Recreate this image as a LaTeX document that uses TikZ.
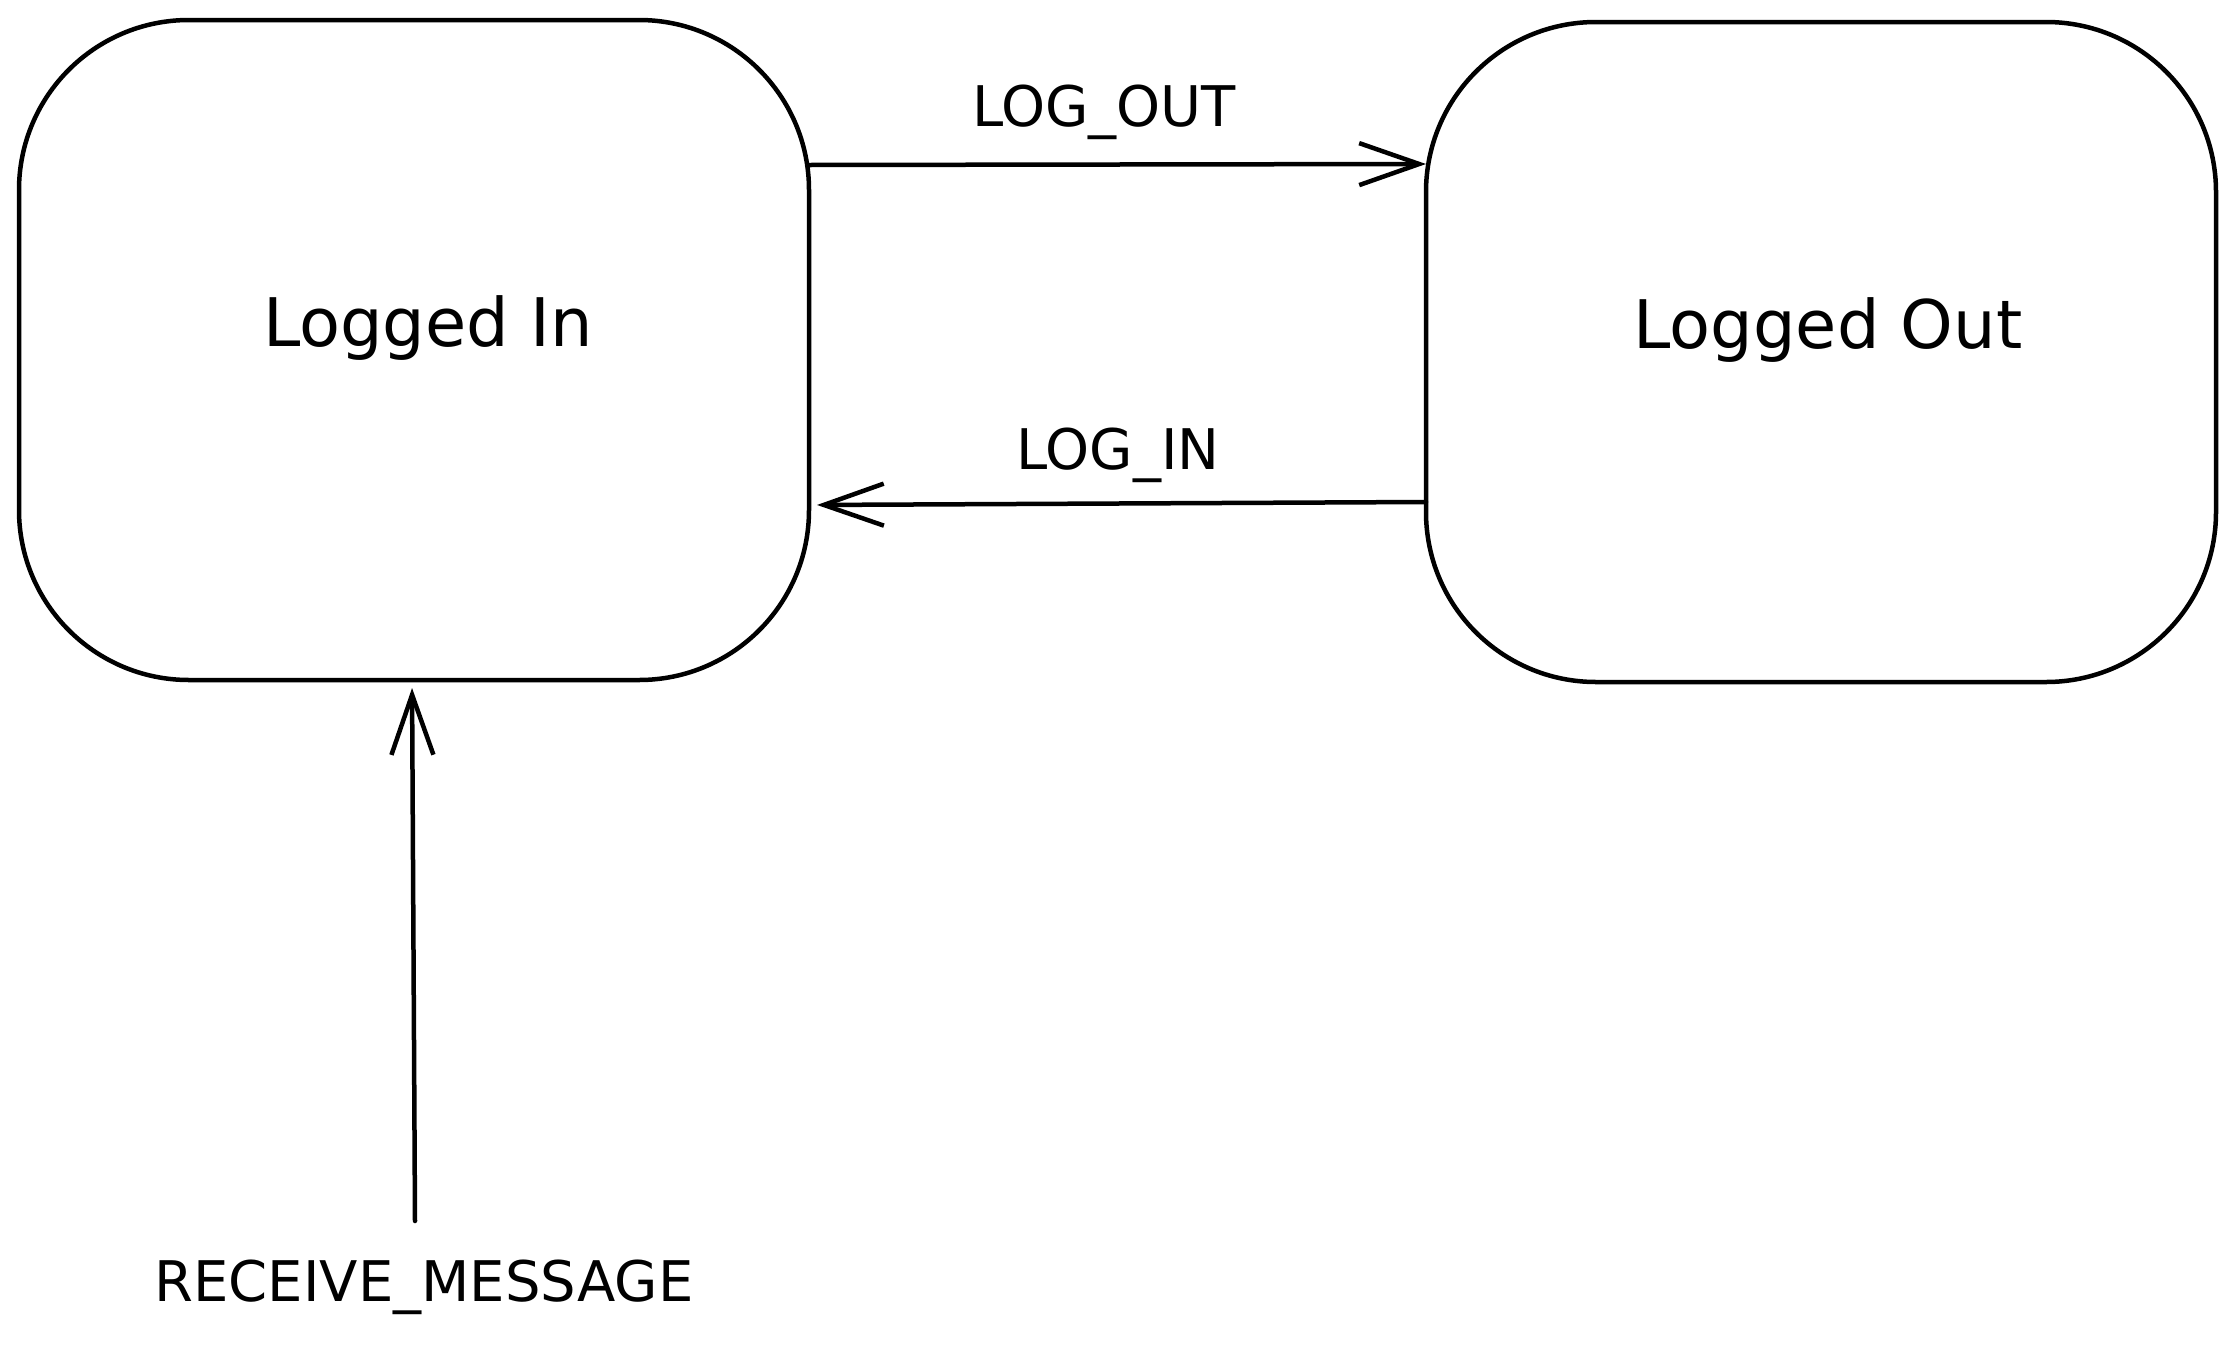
\documentclass[tikz,border=0pt]{standalone}
\usepackage{fontspec}
\setmainfont{DejaVu Sans}
\usetikzlibrary{arrows.meta}
\tikzset{
  statebox/.style={draw=black, line width=4.5pt, rounded corners=170pt, minimum width=790pt, minimum height=660pt, inner sep=0pt, outer sep=0pt},
  statetext/.style={font=\fontsize{67}{80}\selectfont, inner sep=0pt},
  evlabel/.style={font=\fontsize{56}{66}\selectfont, inner sep=0pt},
  trans/.style={line width=4.5pt, line cap=round, -{Straight Barb[length=60pt, width=42pt, line width=4.5pt]}},
}
\begin{document}
\begin{tikzpicture}[x=1pt, y=-1pt]
\useasboundingbox (0,0) rectangle (2236,1347);
\fill[white] (0,0) rectangle (2236,1347);
% states
\node[statebox] (li) at (414,350) {};
\node[statebox] (lo) at (1821,352) {};
\node[statetext] (litext) at (428,328) {Logged In};
\node[statetext] (lotext) at (1828,330) {Logged Out};
% transitions
\draw[trans] ([yshift=185pt]li.east) -- ([yshift=188pt]lo.west);
\node[evlabel] (lout) at (1104,112) {LOG\_OUT};
\draw[trans, shorten >=8pt] ([yshift=-150pt]lo.west) -- ([yshift=-155pt]li.east);
\node[evlabel] (lin) at (1118,455) {LOG\_IN};
\coordinate (rmstart) at (415,1221);
\draw[trans, shorten >=8pt] (rmstart) -- ([xshift=-2pt]li.south);
\node[evlabel] (rm) at (424,1287) {RECEIVE\_MESSAGE};
\end{tikzpicture}
\end{document}
